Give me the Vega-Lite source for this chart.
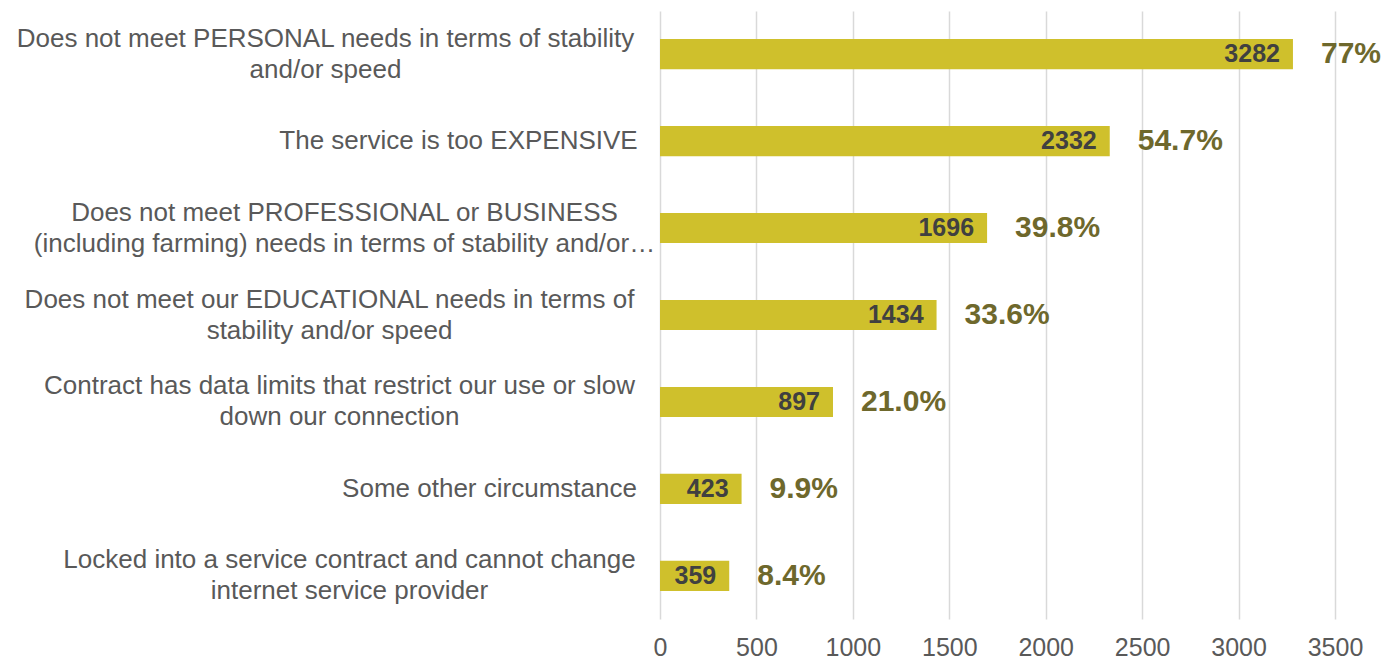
{
  "$schema": "https://vega.github.io/schema/vega-lite/v6.json",
  "autosize": {"type": "none"},
  "padding": {"left": 660, "top": 11, "right": 51, "bottom": 44},
  "width": 675,
  "height": 608,
  "background": "white",
  "config": {"view": {"stroke": null}, "font": "Liberation Sans"},
  "data": {
    "values": [
      {"reason": "Does not meet PERSONAL needs in terms of stability|and/or speed", "count": 3282, "pct": "77%"},
      {"reason": "The service is too EXPENSIVE", "count": 2332, "pct": "54.7%"},
      {"reason": "Does not meet  PROFESSIONAL or BUSINESS|(including farming) needs in terms of stability and/or…", "count": 1696, "pct": "39.8%"},
      {"reason": "Does not meet our EDUCATIONAL needs in terms of|stability and/or speed", "count": 1434, "pct": "33.6%"},
      {"reason": "Contract has data limits that restrict our use or slow|down our connection", "count": 897, "pct": "21.0%"},
      {"reason": "Some other circumstance", "count": 423, "pct": "9.9%"},
      {"reason": "Locked into a service contract and cannot change|internet service provider", "count": 359, "pct": "8.4%"}
    ]
  },
  "encoding": {
    "y": {
      "field": "reason",
      "type": "nominal",
      "sort": null,
      "scale": {"paddingInner": 0.654, "paddingOuter": 0.323},
      "axis": {
        "title": null,
        "domain": false,
        "ticks": false,
        "labelExpr": "split(datum.label, '|')",
        "labelFont": "Liberation Sans",
        "labelFontSize": 26,
        "labelLineHeight": 31,
        "labelColor": "#595959",
        "labelAlign": "center",
        "labelBaseline": "middle",
        "labelLimit": 800,
        "labelOffset": {
          "condition": {"test": "indexof(datum.value, '|') >= 0", "value": -15.5},
          "value": 0
        },
        "labelPadding": {
          "condition": [
            {"test": "indexof(datum.value, 'PERSONAL') >= 0", "value": 335},
            {"test": "indexof(datum.value, 'EXPENSIVE') >= 0", "value": 202},
            {"test": "indexof(datum.value, 'PROFESSIONAL') >= 0", "value": 316},
            {"test": "indexof(datum.value, 'EDUCATIONAL') >= 0", "value": 331},
            {"test": "indexof(datum.value, 'Contract') >= 0", "value": 321},
            {"test": "indexof(datum.value, 'Some other') >= 0", "value": 171}
          ],
          "value": 311
        }
      }
    },
    "x": {
      "field": "count",
      "type": "quantitative",
      "scale": {"domain": [0, 3500], "nice": false},
      "axis": {
        "title": null,
        "values": [0, 500, 1000, 1500, 2000, 2500, 3000, 3500],
        "format": "d",
        "labelFlush": false,
        "domain": false,
        "ticks": false,
        "grid": true,
        "gridColor": "#d9d9d9",
        "gridWidth": 1.5,
        "labelFont": "Liberation Sans",
        "labelFontSize": 25,
        "labelColor": "#595959",
        "labelPadding": 16
      }
    }
  },
  "layer": [
    {"mark": {"type": "bar", "color": "#CFC02C"}},
    {
      "mark": {"type": "text", "align": "right", "baseline": "middle", "dx": -13, "fontSize": 25, "fontWeight": "bold", "color": "#404040", "font": "Liberation Sans"},
      "encoding": {"text": {"field": "count", "type": "quantitative", "format": "d"}}
    },
    {
      "mark": {"type": "text", "align": "left", "baseline": "middle", "dx": 28, "fontSize": 30, "fontWeight": "bold", "color": "#6E682C", "font": "Liberation Sans"},
      "encoding": {"text": {"field": "pct", "type": "nominal"}}
    }
  ]
}
